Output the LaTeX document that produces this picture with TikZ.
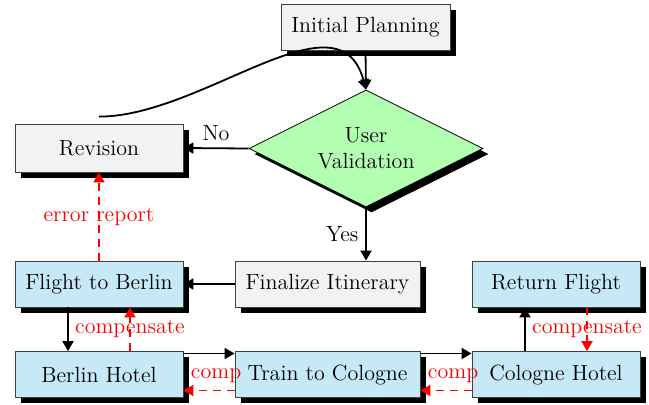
\documentclass[tikz,border=0pt]{standalone}
\usepackage{tikz}
\usetikzlibrary{shapes,shadows,arrows.meta}
\definecolor{taskblue}{HTML}{C6E8F7}

\begin{document}
\begin{tikzpicture}[font=\fontsize{11}{13}\selectfont]
    \newcommand{\sideshift}[0]{ 15.5pt }
    \newcommand{\laneshift}[0]{ 10.5pt }
    \tikzstyle{edge}  = [line width=0.9pt,-{Triangle[length=5pt,width=5.5pt]},draw=black]
    \tikzstyle{cedge} = [line width=0.9pt,dash pattern=on 4pt off 3pt,
                         -{Triangle[length=5pt,width=5.5pt]},draw=red]
    \tikzstyle{clabel}= [text=red]
    \tikzstyle{shade} = [drop shadow={shadow xshift=2.75pt,shadow yshift=-2.75pt,
                         fill=black,opacity=1}]
    \tikzstyle{box}=[
      rectangle,
      draw=black!75,
      fill=black!5,
      anchor=center,
      minimum height=23pt,
      shade,
    ]
    \tikzstyle{task}=[box,fill=taskblue]

    \useasboundingbox (0,0) rectangle (324.5pt,-202pt);

    \node[box,minimum width=84.5pt] (planning) at (182.75pt,-13.5pt) {Initial Planning};
    \node[diamond,aspect=2,inner sep=1pt,draw=black,fill=green!30,shade,align=center,
          minimum width=117pt,minimum height=58.5pt] (validation) at
      (183pt,-74.25pt)
      {User\\Validation};
    \node[box,minimum width=84pt,minimum height=24pt] (revision) at
      (49.5pt,-74pt)
      {Revision};
    \node[box,minimum width=92.5pt] (finalize) at
      (163.75pt,-142pt)
      {Finalize Itinerary};
    \node[task,minimum width=84pt] (flight) at
      (49.5pt,-142pt)
      {Flight to Berlin};
    \node[task,minimum width=84pt] (return) at
      (278pt,-142pt)
      {Return Flight};
    \node[task,minimum width=84pt] (berlin) at
      (49.5pt,-187.25pt)
      {Berlin Hotel};
    \node[task,minimum width=92.5pt] (train) at
      (163.75pt,-187.25pt)
      {Train to Cologne};
    \node[task,minimum width=84pt] (cologne) at
      (278pt,-187.25pt)
      {Cologne Hotel};

    % planning -> validation, revision loop
    \draw[edge] (planning.south)--(validation.north);
    \draw[edge] ([yshift=3.5pt]revision.north)
              to[out=0,in=105,out distance=52pt,in distance=52pt] (validation.north);

    % validation -> revision / finalize
    \draw[edge] (validation.west)--(revision.east)
      node[midway,above] (no_label) {No};
    \draw[edge] (validation.south)--(validation.south |- finalize.north)
      node[midway,left] (yes_label) {Yes};
    \draw[edge] (finalize.west)--(flight.east);

    % forward steps
    \draw[edge] ([xshift=-\sideshift]flight.south)
              --([xshift=-\sideshift]berlin.north);
    \draw[edge] ([yshift= \laneshift]berlin.east)
              --([yshift= \laneshift]train.west);
    \draw[edge] ([yshift= \laneshift]train.east)
              --([yshift= \laneshift]cologne.west);
    \draw[edge] ([xshift=-\sideshift]cologne.north)
              --([xshift=-\sideshift]return.south);

    % compensation
    \draw[cedge] (flight.north)--(revision.south)
      node[midway,clabel] (error_label) {error report};
    \draw[cedge] ([xshift= \sideshift]berlin.north)
               --([xshift= \sideshift]flight.south)
      node[midway,clabel] (comp_flight) {compensate};
    \draw[cedge] ([yshift=-8pt]train.west)
               --([yshift=-8pt]berlin.east)
      node[pos=1,above right,clabel] (comp_berlin) {comp};
    \draw[cedge] ([yshift=-8pt]cologne.west)
               --([yshift=-8pt]train.east)
      node[pos=1,above right,clabel] (comp_train) {comp};
    \draw[cedge] ([xshift= \sideshift]return.south)
               --([xshift= \sideshift]cologne.north)
      node[midway,clabel] (comp_return) {compensate};
\end{tikzpicture}
\end{document}
